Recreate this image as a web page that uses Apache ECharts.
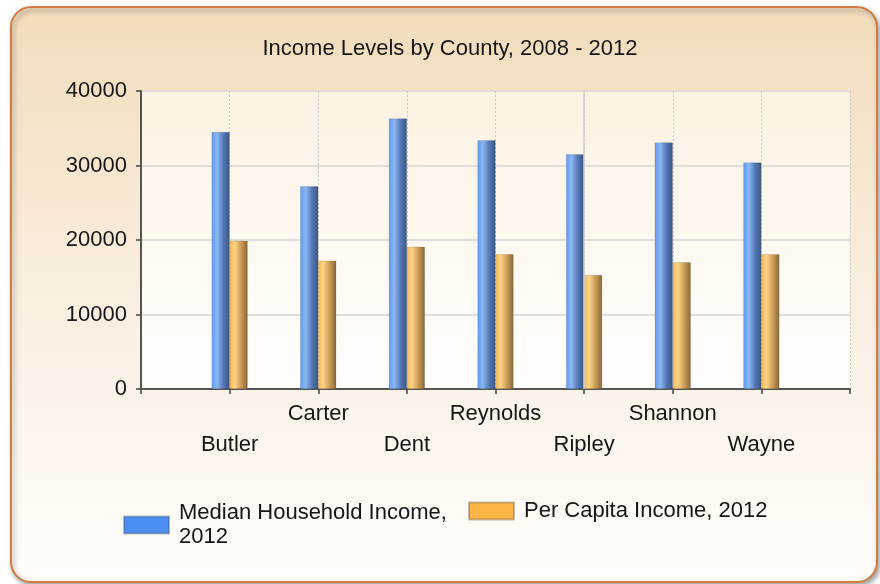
<!DOCTYPE html>
<html>
<head>
<meta charset="utf-8">
<script src="https://cdn.jsdelivr.net/npm/echarts@6/dist/echarts.min.js"></script>
<style>
html,body{margin:0;padding:0;background:#ffffff;}
#chart{width:880px;height:584px;}
</style>
</head>
<body>
<div id="chart"></div>
<script>
const titleText = 'Income Levels by County, 2008 - 2012';
const counties = ['Butler', 'Carter', 'Dent', 'Reynolds', 'Ripley', 'Shannon', 'Wayne'];
const medianHousehold = [34500, 27200, 36300, 33400, 31500, 33100, 30400];
const perCapita = [19900, 17200, 19100, 18100, 15300, 17000, 18100];
const seriesNames = ['Median Household Income,\n2012', 'Per Capita Income, 2012'];
const yMin = 0, yMax = 40000, yStep = 10000;

const FONT = 'Liberation Sans, Arial, sans-serif';
const TXT = '#161616';
const chart = echarts.init(document.getElementById('chart'), null, {renderer: 'canvas'});
const G = echarts.graphic;

const xCats = [''].concat(counties, ['']);
const pad = arr => [null].concat(arr, [null]);

const blueGrad = new G.LinearGradient(0, 0, 1, 0, [
  {offset: 0, color: '#5c9bf2'},
  {offset: 0.3, color: '#8bb7f3'},
  {offset: 0.65, color: '#5479b8'},
  {offset: 1, color: '#3a5680'}
]);
const orangeGrad = new G.LinearGradient(0, 0, 1, 0, [
  {offset: 0, color: '#f6b552'},
  {offset: 0.28, color: '#ffd387'},
  {offset: 0.65, color: '#c89a55'},
  {offset: 1, color: '#86673a'}
]);

const legendText = {fontFamily: FONT, fontSize: 22, color: TXT, lineHeight: 24, padding: [0, 0, 0, 5]};

const option = {
  animation: false,
  graphic: [
    {
      type: 'rect', z: -10, silent: true,
      shape: {x: 11, y: 7, width: 866, height: 575, r: 20},
      style: {
        fill: new G.LinearGradient(0, 0, 0, 1, [
          {offset: 0, color: '#f2dcbb'},
          {offset: 0.5, color: '#f9eedf'},
          {offset: 1, color: '#fffdfa'}
        ]),
        stroke: '#d27c42', lineWidth: 2,
        shadowBlur: 5, shadowOffsetX: 2, shadowOffsetY: 3, shadowColor: 'rgba(0,0,0,0.35)'
      }
    }
  ],
  title: {
    text: titleText,
    left: 445, top: 33, textAlign: 'center',
    textStyle: {fontFamily: FONT, fontSize: 22, fontWeight: 'normal', color: TXT}
  },
  legend: [
    {
      left: 123, top: 501, padding: 0,
      itemWidth: 45, itemHeight: 17,
      icon: 'rect',
      data: [{name: seriesNames[0], itemStyle: {color: '#4a8ef0'}}],
      textStyle: legendText
    },
    {
      left: 468, top: 499, padding: 0,
      itemWidth: 45, itemHeight: 17,
      icon: 'rect',
      data: [{name: seriesNames[1], itemStyle: {color: '#fbb445'}}],
      textStyle: legendText
    }
  ],
  grid: {
    left: 141, right: 30, top: 91, bottom: 195,
    show: true, borderWidth: 0,
    backgroundColor: new G.LinearGradient(0, 0, 0, 1, [
      {offset: 0, color: '#fcf2e2'},
      {offset: 1, color: '#fffefd'}
    ])
  },
  xAxis: {
    type: 'category',
    data: xCats,
    boundaryGap: false,
    axisLine: {show: true, lineStyle: {color: '#555', width: 2}},
    axisTick: {show: true, interval: 0, length: 5, lineStyle: {color: '#444', width: 1.5}},
    axisLabel: {
      interval: 0, hideOverlap: false,
      fontFamily: FONT, fontSize: 22, color: TXT, lineHeight: 31, margin: 9,
      formatter: (v, i) => (i % 2 === 1 ? '\n' + v : v)
    },
    splitLine: {show: true, interval: 0, lineStyle: {color: '#c8c8c8', type: [2, 2], width: 1}}
  },
  yAxis: {
    type: 'value', min: yMin, max: yMax, interval: yStep,
    axisLine: {show: true, lineStyle: {color: '#555', width: 2}},
    axisTick: {show: true, length: 5, lineStyle: {color: '#444', width: 1.5}},
    axisLabel: {fontFamily: FONT, fontSize: 22, color: TXT, margin: 14, formatter: v => String(v)},
    splitLine: {show: true, lineStyle: {color: '#d6d6d6', width: 1.5}}
  },
  series: [
    {
      name: seriesNames[0], type: 'bar', barWidth: 18, barGap: '0%',
      data: pad(medianHousehold),
      itemStyle: {color: blueGrad, borderColor: 'rgba(60,70,90,0.35)', borderWidth: 0.5}
    },
    {
      name: seriesNames[1], type: 'bar', barWidth: 18,
      data: pad(perCapita),
      itemStyle: {color: orangeGrad, borderColor: 'rgba(90,70,40,0.35)', borderWidth: 0.5}
    },
    {
      name: 'gridAccent', type: 'line', data: [], silent: true, z: 1,
      markLine: {
        silent: true, symbol: 'none', label: {show: false},
        lineStyle: {color: '#cfcfcf', type: 'solid', width: 1.5},
        data: [{xAxis: counties[4]}]
      }
    }
  ]
};
chart.setOption(option);
</script>
</body>
</html>
